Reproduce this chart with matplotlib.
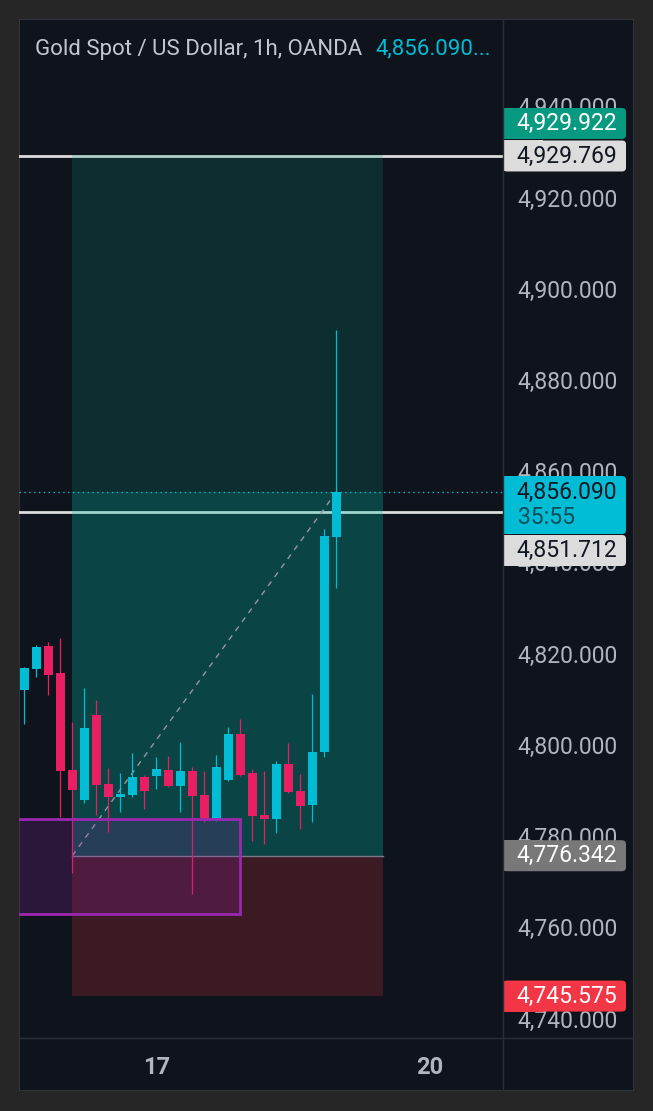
import matplotlib
matplotlib.use("Agg")
import matplotlib.pyplot as plt
from matplotlib.patches import Rectangle, FancyBboxPatch
from matplotlib.lines import Line2D
from matplotlib.ticker import FuncFormatter
from matplotlib.transforms import ScaledTranslation

plt.rcParams['font.family'] = ['Roboto', 'DejaVu Sans']

# hourly candles
opens = [4812.68, 4817.29, 4822.33, 4816.48, 4795.14, 4788.57, 4807.20, 4792.07, 4789.29,
         4789.66, 4793.67, 4793.89, 4795.14, 4791.70, 4794.92, 4789.66, 4784.40, 4792.95,
         4803.04, 4794.55, 4785.28, 4784.40, 4796.39, 4790.54, 4787.47, 4799.16, 4846.30]
highs = [4817.79, 4822.55, 4823.27, 4824.15, 4805.73, 4813.06, 4810.49, 4795.65, 4794.55,
         4798.80, 4794.05, 4798.06, 4798.21, 4801.35, 4795.87, 4794.99, 4798.43, 4804.64,
         4806.33, 4795.30, 4794.99, 4797.12, 4801.13, 4794.27, 4811.81, 4847.98, 4891.61]
lows = [4805.23, 4815.60, 4811.59, 4784.77, 4772.50, 4788.00, 4785.28, 4781.62, 4786.00,
        4789.30, 4786.53, 4790.91, 4791.50, 4786.00, 4767.96, 4783.74, 4783.96, 4792.80,
        4793.83, 4779.58, 4778.92, 4781.27, 4790.00, 4782.14, 4783.81, 4797.93, 4834.98]
closes = [4817.57, 4822.18, 4815.97, 4794.92, 4790.76, 4804.42, 4791.85, 4789.29, 4789.95,
          4793.67, 4790.54, 4795.36, 4791.70, 4794.92, 4789.51, 4784.40, 4795.87, 4803.04,
          4794.05, 4785.06, 4784.40, 4796.39, 4790.25, 4787.32, 4799.16, 4846.45, 4856.09]

last_price = 4856.090
countdown = "35:55"
hlines = [4929.769, 4851.712]
entry = 4776.342
target = 4929.922
stop = 4745.575
pos_start, pos_end = 4, 29.9
zone_x = [-2, 18]
zone_y = [4763.57, 4784.40]

time_ticks = [11, 33.8]
time_labels = ["17", "20"]
price_ticks = list(range(4740, 4941, 20))

title = "Gold Spot / US Dollar, 1h, OANDA"

BG = '#0f141c'
UP = '#00bcd4'
DOWN = '#e91e63'
TXT = '#b2b5be'
GRID = '#2a2e39'
FS = 16.5

W, H = 653, 1111
fig = plt.figure(figsize=(W / 100, H / 100), dpi=100)
fig.patch.set_facecolor('#262626')


def fx(px):
    return px / W


def fy(py):
    return 1 - py / H


# panel
panel = fig.add_axes([fx(19), fy(1090), fx(614), (1090 - 19) / H])
panel.set_facecolor(BG)
panel.set_xticks([])
panel.set_yticks([])
for s in panel.spines.values():
    s.set_color('#30343c')

ymin, ymax = 4736.38, 4959.80
ax = fig.add_axes([fx(19), fy(1038), fx(484), 1019 / H])
ax.set_facecolor('none')
ax.set_xlim(-0.44, 39.89)
ax.set_ylim(ymin, ymax)
for s in ax.spines.values():
    s.set_visible(False)

# horizontal lines (under the position box)
for h in hlines:
    ax.axhline(h, color='#dcdcdc', lw=2.0, zorder=1)
ax.axhline(last_price, color=UP, lw=1, ls=(0, (1, 2.5)), zorder=1)

# long position tool
ax.add_patch(Rectangle((pos_start, last_price), pos_end - pos_start, target - last_price,
                       facecolor='#089981', alpha=0.2, lw=0, zorder=2))
ax.add_patch(Rectangle((pos_start, entry), pos_end - pos_start, last_price - entry,
                       facecolor='#00c8b2', alpha=0.27, lw=0, zorder=2))
ax.add_patch(Rectangle((pos_start, stop), pos_end - pos_start, entry - stop,
                       facecolor='#f23645', alpha=0.2, lw=0, zorder=2))
ax.plot([pos_start, pos_end], [entry, entry], color='#787b86', lw=1, zorder=2)
ax.plot([pos_start, len(closes) - 1], [entry, last_price], color='#9598a1', lw=1,
        ls=(0, (4, 4)), zorder=3)

# candles
for i, (o, hi, lo, c) in enumerate(zip(opens, highs, lows, closes)):
    col = UP if c >= o else DOWN
    ax.vlines(i, lo, hi, color=col, lw=0.9, zorder=4)
    ax.bar(i, abs(c - o), bottom=min(o, c), width=0.75, color=col, lw=0, zorder=5)

# demand zone
ax.add_patch(Rectangle((zone_x[0], zone_y[0]), zone_x[1] - zone_x[0], zone_y[1] - zone_y[0],
                       facecolor=(0.61, 0.15, 0.69, 0.2), edgecolor='#9c27b0', lw=2,
                       zorder=6, clip_on=True))

# axes labels
ax.set_xticks(time_ticks)
ax.set_xticklabels(time_labels, fontsize=17, fontweight='bold', color=TXT)
ax.tick_params(axis='x', length=0, pad=13)
ax.yaxis.tick_right()
ax.set_yticks(price_ticks)
ax.yaxis.set_major_formatter(FuncFormatter(lambda v, p: f"{v:,.3f}"))
ax.tick_params(axis='y', length=0, pad=10.5, labelsize=FS, labelcolor=TXT)
nudge = ScaledTranslation(0, 3 / 100, fig.dpi_scale_trans)
for lab in ax.get_yticklabels():
    lab.set_transform(lab.get_transform() + nudge)

# separators
fig.add_artist(Line2D([fx(503), fx(503)], [fy(19), fy(1090)], color=GRID, lw=1))
fig.add_artist(Line2D([fx(19), fx(633)], [fy(1038), fy(1038)], color=GRID, lw=1))

# title
t = fig.text(fx(35), fy(49), title, fontsize=16, color='#c3c6ce', va='center')
fig.text(fx(375), fy(49), f"{last_price:,.3f}...", fontsize=16, color=UP, va='center')

# price badges
pax = fig.add_axes([fx(503), fy(1038), fx(131), 1019 / H])
pax.set_xlim(503, 634)
pax.set_ylim(ymin, ymax)
pax.axis('off')
k = (ymax - ymin) / 1019  # price per pixel


def badge(center, height_px, face):
    hh = height_px * k
    bottom = center - hh / 2
    pax.add_patch(FancyBboxPatch((503, bottom), 123, hh,
                                 boxstyle="round,pad=0,rounding_size=4",
                                 mutation_aspect=k, facecolor=face, lw=0, zorder=3))
    pax.add_patch(Rectangle((503, bottom), 40, hh, facecolor=face, lw=0, zorder=3))


def badge_text(y, label, color, ha='right'):
    x = 617 if ha == 'right' else 518
    pax.text(x, y, label, ha=ha, va='center', fontsize=FS, color=color, zorder=4)


# target / line at target
badge(hlines[0] + 32.5 * k, 31, '#089981')
badge_text(hlines[0] + 32.5 * k, f"{target:,.3f}", 'white')
badge(hlines[0], 31, '#dcdcdc')
badge_text(hlines[0], f"{hlines[0]:,.3f}", '#131722')

# last price with countdown
top = last_price + 16 * k
bot = last_price - 42 * k
badge((top + bot) / 2, 58, UP)
badge_text(last_price, f"{last_price:,.3f}", '#131722')
badge_text(last_price - 25 * k, countdown, '#0b4f5a', ha='left')

badge(last_price - 58.5 * k, 31, '#dcdcdc')
badge_text(last_price - 58.5 * k, f"{hlines[1]:,.3f}", '#131722')

badge(entry, 31, '#787878')
badge_text(entry, f"{entry:,.3f}", 'white')
badge(stop, 31, '#f23645')
badge_text(stop, f"{stop:,.3f}", 'white')

fig.savefig("out.png", dpi=100, facecolor=fig.get_facecolor())
